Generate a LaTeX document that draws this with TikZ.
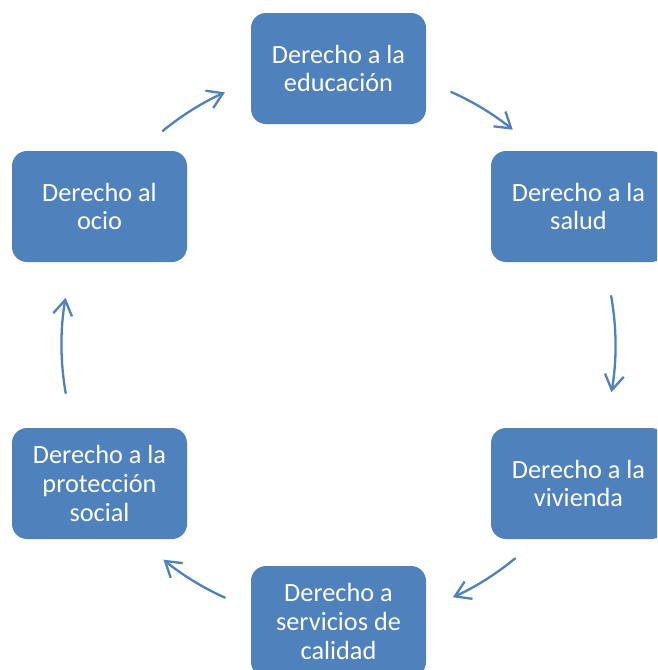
\documentclass[tikz,border=0pt]{standalone}
\usepackage{fontspec}
\setmainfont{Carlito}
\usetikzlibrary{arrows.meta}
\definecolor{boxblue}{HTML}{4F81BD}
\tikzset{
  rbox/.style={draw=none, fill=boxblue, rounded corners=15pt, minimum width=175pt,
    minimum height=111pt, text=white, align=center, inner sep=0pt,
    font=\fontsize{26.3pt}{28.8pt}\selectfont},
  arr/.style={draw=boxblue, line width=2.3pt, line cap=round,
    -{Straight Barb[length=15pt,width=19pt,line width=2.3pt]}}
}
\begin{document}
\begin{tikzpicture}[x=1pt,y=-1pt]
\useasboundingbox (0,0) rectangle (657,670);
\clip (0,0) rectangle (657,670);
\fill[white] (0,0) rectangle (657,670);
\coordinate (O) at (338.5,345);
\node[rbox] (edu) at (338.5,68.5) {Derecho a la\\educación};
\node[rbox] (sal) at (578.5,206.5) {Derecho a la\\salud};
\node[rbox] (viv) at (578.5,483.5) {Derecho a la\\vivienda};
\node[rbox] (ser) at (338.5,621.5) {Derecho a\\servicios de\\calidad};
\node[rbox] (pro) at (99.5,483.5) {Derecho a la\\protección\\social};
\node[rbox] (oci) at (99.5,206.5) {Derecho al\\ocio};
\draw[arr] (O) ++(-66:277) arc[start angle=-66,end angle=-51,radius=277];
\draw[arr] (O) ++(-10.2:277) arc[start angle=-10.2,end angle=9.8,radius=277];
\draw[arr] (O) ++(50.4:277) arc[start angle=50.4,end angle=65.6,radius=277];
\draw[arr] (O) ++(114.2:277) arc[start angle=114.2,end angle=129.2,radius=277];
\draw[arr] (O) ++(170:277) arc[start angle=170,end angle=189.8,radius=277];
\draw[arr] (O) ++(230.6:277) arc[start angle=230.6,end angle=245.8,radius=277];
\end{tikzpicture}
\end{document}
